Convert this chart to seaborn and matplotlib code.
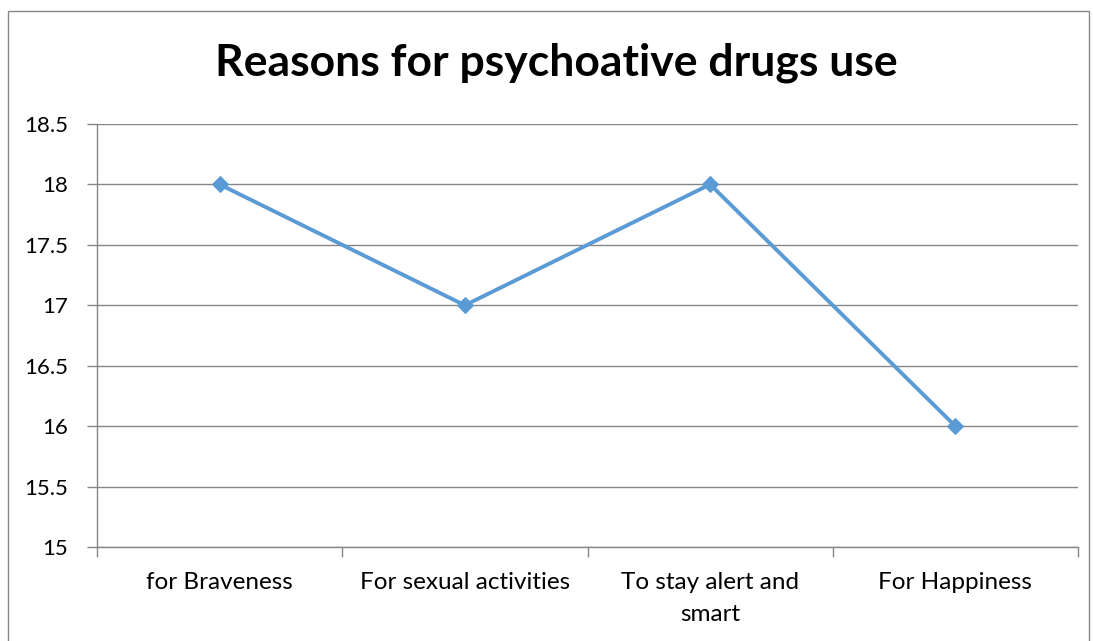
import matplotlib
matplotlib.use("Agg")
import matplotlib.pyplot as plt
from matplotlib.patches import Rectangle
from matplotlib.ticker import FixedLocator, MultipleLocator
import seaborn as sns
import pandas as pd

# Survey responses: reasons given for psychoactive drug use
categories = ["for Braveness", "For sexual activities", "To stay alert and\nsmart", "For Happiness"]
counts = [18, 17, 18, 16]
title = "Reasons for psychoative drugs use"

sns.set_theme(style="white")
plt.rcParams["font.family"] = ["Lato", "DejaVu Sans"]

df = pd.DataFrame({"pos": range(len(categories)), "count": counts})

fig = plt.figure(figsize=(10.93, 6.41), dpi=100)
ax = fig.add_axes([97 / 1093, 1 - 547 / 641, (1078 - 97) / 1093, (547 - 124) / 641])

sns.lineplot(data=df, x="pos", y="count", ax=ax, color="#5B9BD5", linewidth=2.8,
             marker="D", markersize=8, markeredgecolor="#5B9BD5")

ax.set_xlim(-0.5, len(categories) - 0.5)
ax.set_ylim(15, 18.5)
ax.yaxis.set_major_locator(MultipleLocator(0.5))
ax.set_yticklabels([f"{v:g}" for v in ax.get_yticks()])
ax.set_xticks(range(len(categories)))
ax.set_xticklabels(categories, fontsize=17.5, linespacing=1.65)
ax.xaxis.set_minor_locator(FixedLocator([i - 0.5 for i in range(len(categories) + 1)]))
ax.tick_params(axis="x", which="major", length=0, pad=18)
ax.tick_params(axis="x", which="minor", length=7, width=1, color="#868686", direction="out", bottom=True)
ax.tick_params(axis="y", length=7, width=1, color="#868686", direction="out", left=True,
               labelsize=16, pad=14, labelcolor="black")
ax.tick_params(axis="x", labelcolor="black")
ax.set_xlabel("")
ax.set_ylabel("")

ax.grid(axis="y", color="#868686", linewidth=1)
ax.set_axisbelow(True)
for side in ["top", "right"]:
    ax.spines[side].set_visible(False)
for side in ["left", "bottom"]:
    ax.spines[side].set_color("#868686")
    ax.spines[side].set_linewidth(1)

fig.text(556 / 1093, 1 - 63 / 641, title, ha="center", va="center",
         fontsize=32, fontweight="bold", color="black")

# Chart frame
fig.patches.append(Rectangle((8 / 1093, -0.05), (1089 - 8) / 1093, 1.05 - 11 / 641,
                             transform=fig.transFigure, fill=False,
                             edgecolor="#868686", linewidth=1))

fig.savefig("out.png", dpi=100)
